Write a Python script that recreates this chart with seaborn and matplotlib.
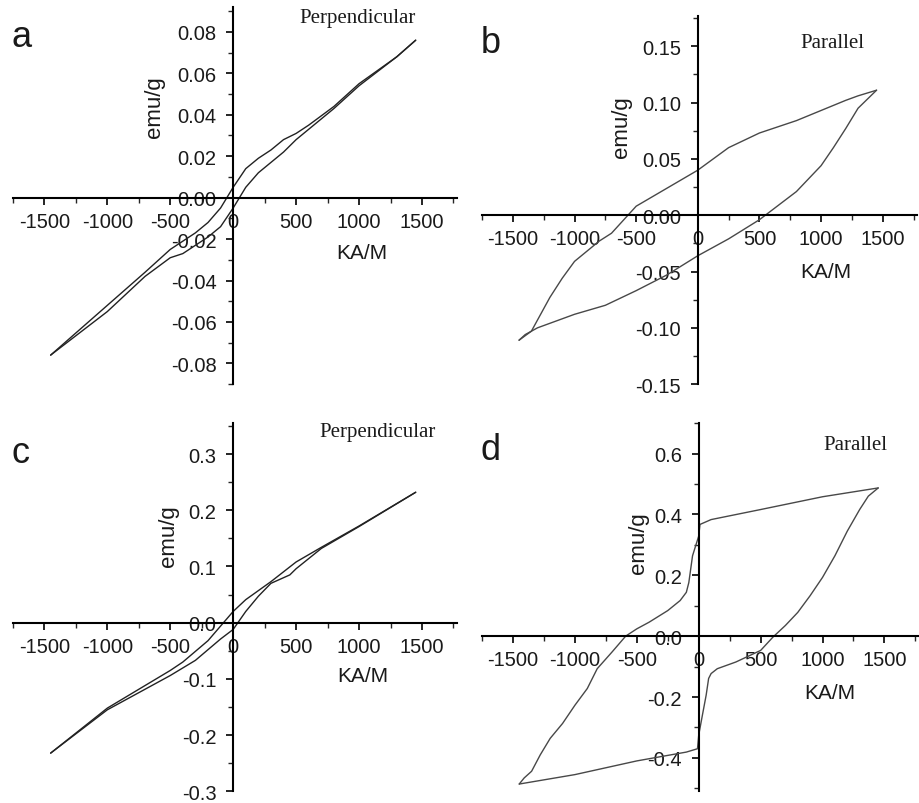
import numpy as np
import matplotlib.pyplot as plt
import seaborn as sns
from matplotlib.ticker import MultipleLocator, FormatStrFormatter

sns.set_style("ticks")
plt.rcParams['font.family'] = ['Liberation Sans', 'DejaVu Sans']
plt.rcParams['axes.unicode_minus'] = False

# panel a - perpendicular (descending and ascending field branches)
a_down_x = [1450, 1300, 1000, 800, 600, 500, 400, 300, 200, 100, 0, -100, -200, -300, -400, -500, -700, -1000, -1300, -1450]
a_down_y = [0.076, 0.068, 0.055, 0.044, 0.035, 0.031, 0.028, 0.023, 0.019, 0.014, 0.005, -0.005, -0.012, -0.017, -0.021, -0.025, -0.036, -0.052, -0.068, -0.076]
a_up_x = [-1450, -1300, -1000, -700, -500, -400, -300, -200, -100, 0, 100, 200, 300, 400, 500, 600, 800, 1000, 1300, 1450]
a_up_y = [-0.076, -0.069, -0.055, -0.038, -0.029, -0.027, -0.023, -0.019, -0.014, -0.005, 0.005, 0.012, 0.017, 0.022, 0.028, 0.033, 0.043, 0.054, 0.068, 0.076]

# panel b - parallel
b_down_x = [1450, 1300, 1200, 1000, 800, 500, 250, 0, -250, -500, -700, -800, -1000, -1100, -1200, -1350, -1450]
b_down_y = [0.111, 0.106, 0.102, 0.093, 0.084, 0.073, 0.060, 0.040, 0.024, 0.008, -0.016, -0.023, -0.041, -0.056, -0.073, -0.103, -0.111]
b_up_x = [-1450, -1400, -1300, -1000, -750, -500, -250, 0, 250, 500, 800, 1000, 1100, 1200, 1300, 1450]
b_up_y = [-0.111, -0.106, -0.100, -0.088, -0.080, -0.067, -0.053, -0.036, -0.021, -0.004, 0.021, 0.044, 0.060, 0.077, 0.095, 0.111]

# panel c - perpendicular
c_down_x = [1450, 1000, 700, 500, 300, 100, 0, -100, -200, -400, -500, -1000, -1450]
c_down_y = [0.232, 0.172, 0.134, 0.108, 0.073, 0.041, 0.020, -0.006, -0.032, -0.070, -0.085, -0.152, -0.232]
c_up_x = [-1450, -1000, -500, -300, -100, 0, 100, 200, 300, 450, 500, 700, 1000, 1450]
c_up_y = [-0.232, -0.155, -0.094, -0.067, -0.029, -0.012, 0.020, 0.047, 0.070, 0.085, 0.096, 0.132, 0.171, 0.232]

# panel d - parallel
d_down_x = [1450, 1000, 500, 100, 10, 0, -50, -80, -100, -150, -250, -400, -500, -590, -700, -820, -900, -1000, -1100,
            -1200, -1280, -1350, -1410, -1450]
d_down_y = [0.487, 0.458, 0.416, 0.383, 0.367, 0.329, 0.264, 0.176, 0.144, 0.117, 0.084, 0.046, 0.024, 0.0, -0.052, -0.107,
            -0.172, -0.227, -0.287, -0.336, -0.390, -0.444, -0.466, -0.486]
d_up_x = [-1450, -1000, -500, -100, -10, 0, 30, 60, 80, 100, 150, 300, 500, 600, 700, 800, 900, 1000, 1100, 1200, 1300, 1370, 1450]
d_up_y = [-0.486, -0.455, -0.410, -0.381, -0.370, -0.325, -0.259, -0.194, -0.139, -0.123, -0.107, -0.085, -0.047, -0.003, 0.035,
          0.078, 0.133, 0.193, 0.264, 0.345, 0.416, 0.460, 0.487]

panels = [
    dict(rect=[0.014, 0.521, 0.483, 0.469], x=(a_down_x, a_up_x), y=(a_down_y, a_up_y),
         ylim=(-0.09, 0.092), major=0.02, minor=0.01, fmt='%.2f', letter='a', lpos=(0.012, 0.953),
         title='Perpendicular', tpos=(0.775, 0.973), xl=(0.786, 0.35), yl=(0.318, 0.737), color='#222222'),
    dict(rect=[0.524, 0.521, 0.473, 0.458], x=(b_down_x, b_up_x), y=(b_down_y, b_up_y),
         ylim=(-0.15, 0.177), major=0.05, minor=0.025, fmt='%.2f', letter='b', lpos=(0.522, 0.946),
         title='Parallel', tpos=(0.805, 0.929), xl=(0.789, 0.307), yl=(0.32, 0.70), color='#484848'),
    dict(rect=[0.014, 0.0145, 0.483, 0.458], x=(c_down_x, c_up_x), y=(c_down_y, c_up_y),
         ylim=(-0.3, 0.355), major=0.1, minor=0.05, fmt='%.1f', letter='c', lpos=(0.012, 0.436),
         title='Perpendicular', tpos=(0.82, 0.978), xl=(0.788, 0.315), yl=(0.35, 0.696), color='#222222'),
    dict(rect=[0.524, 0.0145, 0.475, 0.458], x=(d_down_x, d_up_x), y=(d_down_y, d_up_y),
         ylim=(-0.51, 0.70), major=0.2, minor=0.1, fmt='%.1f', letter='d', lpos=(0.522, 0.440),
         title='Parallel', tpos=(0.854, 0.941), xl=(0.796, 0.269), yl=(0.357, 0.677), color='#484848'),
]

fig = plt.figure(figsize=(9.2, 8.04), dpi=100)

for p in panels:
    ax = fig.add_axes(p['rect'])
    for xs, ys in zip(p['x'], p['y']):
        sns.lineplot(x=xs, y=ys, sort=False, estimator=None, ax=ax, color=p['color'], linewidth=1.0)
    ax.set_xlim(-1750, 1780)
    ax.set_ylim(*p['ylim'])
    for s in ['top', 'right']:
        ax.spines[s].set_visible(False)
    ax.spines['left'].set_position(('data', 0))
    ax.spines['bottom'].set_position(('data', 0))
    for s in ['left', 'bottom']:
        ax.spines[s].set_linewidth(1.5)
        ax.spines[s].set_color('black')
    ax.xaxis.set_major_locator(MultipleLocator(500))
    ax.xaxis.set_minor_locator(MultipleLocator(250))
    ax.yaxis.set_major_locator(MultipleLocator(p['major']))
    ax.yaxis.set_minor_locator(MultipleLocator(p['minor']))
    ax.yaxis.set_major_formatter(FormatStrFormatter(p['fmt']))
    ax.tick_params(which='major', direction='out', length=5, width=1.2, labelsize=14.5, colors='black',
                   labelcolor='#1a1a1a')
    ax.tick_params(which='minor', direction='out', length=3.5, width=1.0)
    ax.tick_params(axis='x', pad=5)
    ax.tick_params(axis='y', pad=7)
    ax.set_xlabel('KA/M', fontsize=15, color='#1a1a1a')
    ax.xaxis.set_label_coords(*p['xl'])
    ax.set_ylabel('emu/g', fontsize=16, color='#1a1a1a')
    ax.yaxis.set_label_coords(*p['yl'])
    ax.xaxis.label.set_va('center')
    ax.yaxis.label.set_va('center')
    ax.text(p['tpos'][0], p['tpos'][1], p['title'], transform=ax.transAxes, ha='center', va='center',
            family='Liberation Serif', fontsize=15, color='#1a1a1a')
    ax.patch.set_alpha(0)
    fig.text(p['lpos'][0], p['lpos'][1], p['letter'], fontsize=26, ha='left', va='center', color='#1a1a1a')

fig.savefig('out.png', dpi=100, facecolor='white')
